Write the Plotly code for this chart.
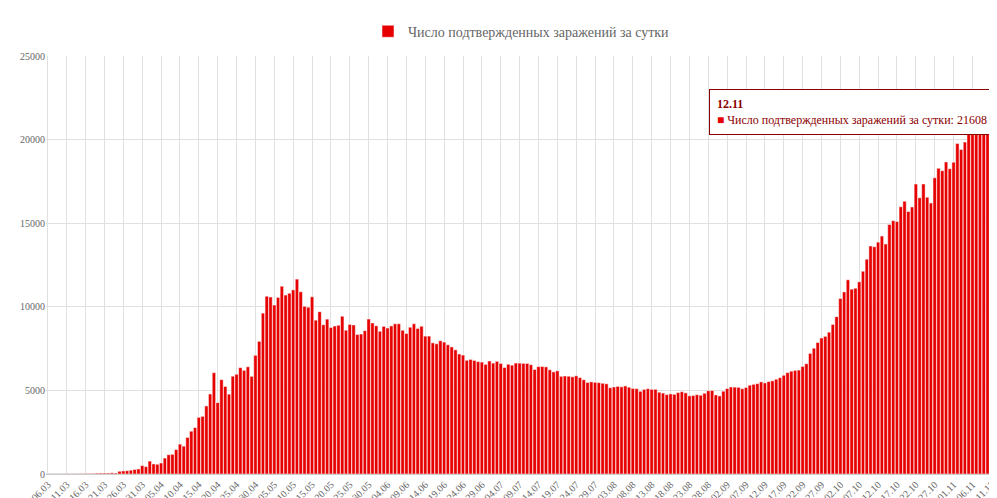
import plotly.graph_objects as go
import datetime as dt

mar = [1,3,0,3,3,8,6,6,14,14,30,21,33,52,54,53,57,71,57,163,182,196,228,270,302,500]
apr = [440,771,601,582,658,954,1154,1175,1459,1786,1667,2186,2558,2774,3388,3448,4070,4785,6060,4268,5642,5236,4774,5849,5966,6361,6198,6411,5841,7099]
may = [7933,9623,10633,10581,10102,10559,11231,10699,10817,11012,11656,10899,10028,9974,10598,9200,9709,8926,9263,8764,8849,8894,9434,8599,8946,8915,8338,8371,8572,9268,9035]
jun = [8863,8536,8831,8726,8855,8984,8985,8595,8404,8779,8987,8706,8835,8246,8248,7843,7790,7972,7889,7728,7600,7425,7176,7113,6800,6852,6791,6719,6693,6556]
jul = [6760,6632,6736,6611,6368,6562,6509,6635,6632,6615,6611,6537,6248,6422,6428,6406,6234,6109,6170,5842,5862,5848,5811,5871,5765,5635,5475,5509,5482,5462,5427]
aug = [5394,5159,5204,5241,5212,5267,5189,5118,5102,4945,5058,5102,5061,5065,4892,4839,4748,4790,4767,4870,4921,4852,4676,4696,4744,4711,4829,4980,4993,4729,4670]
sep = [4952,5110,5205,5195,5185,5099,5172,5310,5363,5405,5509,5449,5529,5572,5670,5762,5905,6065,6148,6196,6215,6431,6595,7212,7523,7867,8135,8232,8481,8945]
oct_ = [9412,10499,10888,11615,11055,11115,11493,12126,12846,13634,13592,13868,14231,13754,14922,15150,15099,15982,16319,15700,15971,17340,16521,17347,16550,16202,17717,18283,18140,18665,18257]
nov = [18648,19768,19404,19851,20582,20977,21798,20498,20977,21798,19851,21608]

values = mar + apr + may + jun + jul + aug + sep + oct_ + nov
start = dt.date(2020, 3, 6)
labels = [(start + dt.timedelta(days=i)).strftime("%d.%m") for i in range(len(values))]
tick_labels = labels[::5]

red = "#e60000"
fig = go.Figure(go.Bar(x=labels, y=values, marker=dict(color=red, line=dict(width=0.5, color="white")),
                       name="Число подтвержденных заражений за сутки"))
fig.update_layout(
    width=997, height=498, margin=dict(l=38, r=8, t=34, b=32),
    plot_bgcolor="white", paper_bgcolor="white", bargap=0.1,
    font=dict(family="Liberation Serif, Times New Roman, serif", size=11, color="#666"),
    showlegend=True,
    legend=dict(orientation="h", x=0.5, xanchor="center", y=1.02, yanchor="bottom",
                font=dict(size=14, color="#666")),
)
fig.update_xaxes(type="category", tickvals=tick_labels, ticktext=tick_labels, tickangle=-45,
                 showgrid=True, gridcolor="#e0e0e0", tickfont=dict(size=10), linecolor="#ccc",
                 automargin=False)
fig.update_yaxes(range=[0, 25000], dtick=5000, tickformat="d", showgrid=True, gridcolor="#e0e0e0",
                 zeroline=True, zerolinecolor="#ccc", tickfont=dict(size=10), automargin=False)
fig.add_annotation(xref="paper", yref="paper", x=0.998, y=0.92, xanchor="right", yanchor="top",
                   text="<b>" + labels[-1] + "</b><br><span style='color:#e60000'>■</span> Число подтвержденных заражений за сутки: " + str(values[-1]),
                   showarrow=False, align="left", bgcolor="white", bordercolor="#8b0000", borderwidth=1,
                   borderpad=7, font=dict(size=12, color="#8b0000"))
fig.write_html("out.html")
